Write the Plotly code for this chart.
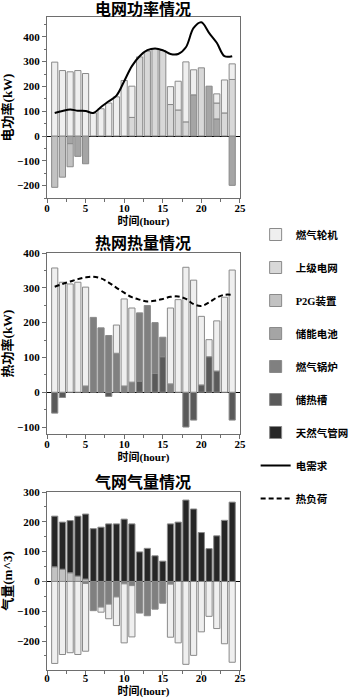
import plotly.graph_objects as go

hours = list(range(1, 25))

# ---- 电网功率 (kW) ----
ele_battery = [None, None, -31, -82, -112, None, None, None, None, None, None, None,
               None, None, None, None, None, None, 166, None, 201, 69, None, -199]
ele_grid = [None, None, None, None, None, None, None, None, None, None, 75, 319,
            342, 353, 345, 127, 105, 57, None, 275, None, 64, 93, 228]
ele_p2g = [-207, -166, -93, None, None, None, None, None, None, None, None, None,
           None, None, None, None, None, None, None, None, None, None, None, None]
ele_gt = [298, 264, 259, 264, 252, 93, 110, 133, 158, 224, 126, None,
          None, None, None, 72, 116, 242, 101, None, None, 37, 133, 63]
ele_demand = [93, 101, 107, 102, 101, 93, 117, 140, 163, 221, 282, 322,
              346, 353, 346, 331, 331, 358, 436, 459, 416, 376, 322, 322]

# ---- 热网热量 (kW) ----
heat_store = [-60, -15, None, None, None, None, None, -12, None, None, None, 32,
              None, 54, 102, None, None, -100, -80, 21, 102, 61, None, -80]
heat_boiler = [None, None, None, None, 18, 215, 185, 163, 112, 18, 29, 196,
               249, 146, 56, 24, None, None, None, None, None, None, None, None]
heat_gt = [357, 316, 311, 316, 284, None, None, None, 81, 250, 213, None,
           None, None, None, 218, 266, 359, 322, 197, 49, 144, 273, 351]
heat_load = [303, 311, 318, 325, 330, 332, 327, 315, 300, 286, 273, 266,
             261, 263, 268, 274, 275, 268, 253, 248, 258, 272, 280, 280]

# ---- 气网气量 (m^3) ----
gas_p2g = [49, 41, 29, 18, 8, None, None, None, None, None, None, None,
           None, None, None, None, None, None, None, None, None, None, None, None]
gas_boiler = [None, None, None, None, -7, -98, -86, -76, -52, -8, -14, -106,
              -115, -93, -73, -9, None, None, None, None, None, None, None, None]
gas_gt = [-275, -245, -239, -245, -227, None, -17, -49, -96, -198, -172, None,
          None, None, None, -178, -206, -278, -248, -169, -117, -158, -209, -271]
gas_net = [170, 158, 175, 201, 218, 177, 182, 193, 193, 209, 193, 99,
           111, 86, 68, 193, 199, 273, 243, 164, 110, 153, 205, 266]

names = ["燃气轮机", "上级电网", "P2G装置", "储能电池", "燃气锅炉", "储热槽", "天然气管网", "电需求", "热负荷"]
colors = {
    "燃气轮机": "#efefef",
    "上级电网": "#d8d8d8",
    "P2G装置": "#c2c2c2",
    "储能电池": "#a5a5a5",
    "燃气锅炉": "#808080",
    "储热槽": "#5a5a5a",
    "天然气管网": "#262626",
}

FONT = "Liberation Serif, Noto Sans CJK SC, serif"
fig = go.Figure()
shown = set()


def add_bar(name, vals, xa, ya):
    show = name not in shown
    shown.add(name)
    fig.add_trace(go.Bar(
        x=hours, y=vals, name=name, xaxis=xa, yaxis=ya, width=0.8,
        marker=dict(color=colors[name], line=dict(color="#8a8a8a", width=1)),
        legendgroup=name, showlegend=show, legendrank=names.index(name) + 1,
    ))


add_bar("储能电池", ele_battery, "x", "y")
add_bar("上级电网", ele_grid, "x", "y")
add_bar("P2G装置", ele_p2g, "x", "y")
add_bar("燃气轮机", ele_gt, "x", "y")
fig.add_trace(go.Scatter(x=hours, y=ele_demand, mode="lines", name="电需求",
                         line=dict(color="black", width=2, shape="spline"),
                         xaxis="x", yaxis="y", legendgroup="电需求", legendrank=8))

add_bar("储热槽", heat_store, "x2", "y2")
add_bar("燃气锅炉", heat_boiler, "x2", "y2")
add_bar("燃气轮机", heat_gt, "x2", "y2")
fig.add_trace(go.Scatter(x=hours, y=heat_load, mode="lines", name="热负荷",
                         line=dict(color="black", width=2, dash="5px,3px", shape="spline"),
                         xaxis="x2", yaxis="y2", legendgroup="热负荷", legendrank=9))

add_bar("P2G装置", gas_p2g, "x3", "y3")
add_bar("燃气锅炉", gas_boiler, "x3", "y3")
add_bar("燃气轮机", gas_gt, "x3", "y3")
add_bar("天然气管网", gas_net, "x3", "y3")

W, H, ML = 354, 700, 47
PW = W - ML
xdom = [0, (268 - ML) / PW]


def ydom(top_px, bot_px):
    return [1 - bot_px / H, 1 - top_px / H]


tickfont = dict(family=FONT, size=11, color="black", weight="bold")
axcommon = dict(showline=True, linecolor="#6e6e6e", linewidth=1, mirror=True,
                ticks="outside", ticklen=4, tickcolor="#6e6e6e", showgrid=False,
                tickfont=tickfont, automargin=False)


def xax(anchor, lab_off):
    return dict(domain=xdom, range=[0, 25], dtick=5, anchor=anchor,
                ticklabelstandoff=lab_off,
                minor=dict(dtick=2.5, ticks="outside", ticklen=3, tickcolor="#6e6e6e"),
                title=dict(text="时间(hour)", standoff=1,
                           font=dict(family=FONT, size=11, color="black", weight="bold")),
                zeroline=False, **axcommon)


def yax(anchor, dom, rng, dtick, title):
    return dict(domain=dom, range=rng, dtick=dtick, anchor=anchor,
                minor=dict(dtick=dtick / 2, ticks="outside", ticklen=2, tickcolor="#6e6e6e"),
                zeroline=True, zerolinecolor="black", zerolinewidth=1,
                title=dict(text=title, standoff=4,
                           font=dict(family=FONT, size=13, color="black", weight="bold")),
                **axcommon)


fig.update_layout(
    width=W, height=H, margin=dict(l=ML, r=0, t=0, b=0),
    paper_bgcolor="white", plot_bgcolor="white",
    barmode="relative", bargap=0.2,
    font=dict(family=FONT, color="black"),
    xaxis=xax("y", -4),
    yaxis=yax("x", ydom(17, 198), [-250, 480], 100, "电功率(kW)"),
    xaxis2=xax("y2", -4),
    yaxis2=yax("x2", ydom(253, 434), [-120, 400], 100, "热功率(kW)"),
    xaxis3=xax("y3", -6),
    yaxis3=yax("x3", ydom(492, 670), [-297, 300], 100, "气量(m^3)"),
    legend=dict(x=(286 - ML) / PW, y=1 - 220 / H, xanchor="left", yanchor="top",
                traceorder="grouped", tracegroupgap=14, itemwidth=30,
                font=dict(family=FONT, size=10.5, color="black", weight="bold"),
                bgcolor="rgba(0,0,0,0)"),
    showlegend=True,
)

titles = [("电网功率情况", 9), ("热网热量情况", 243), ("气网气量情况", 482)]
for txt, ypx in titles:
    fig.add_annotation(text=txt, x=(157 - ML) / PW, y=1 - ypx / H, xref="paper", yref="paper",
                       showarrow=False, xanchor="center", yanchor="middle",
                       font=dict(family=FONT, size=16, color="black", weight="bold"))

fig.write_html("out.html", config={"displayModeBar": False},
               post_script="document.body.style.margin='0px';")
